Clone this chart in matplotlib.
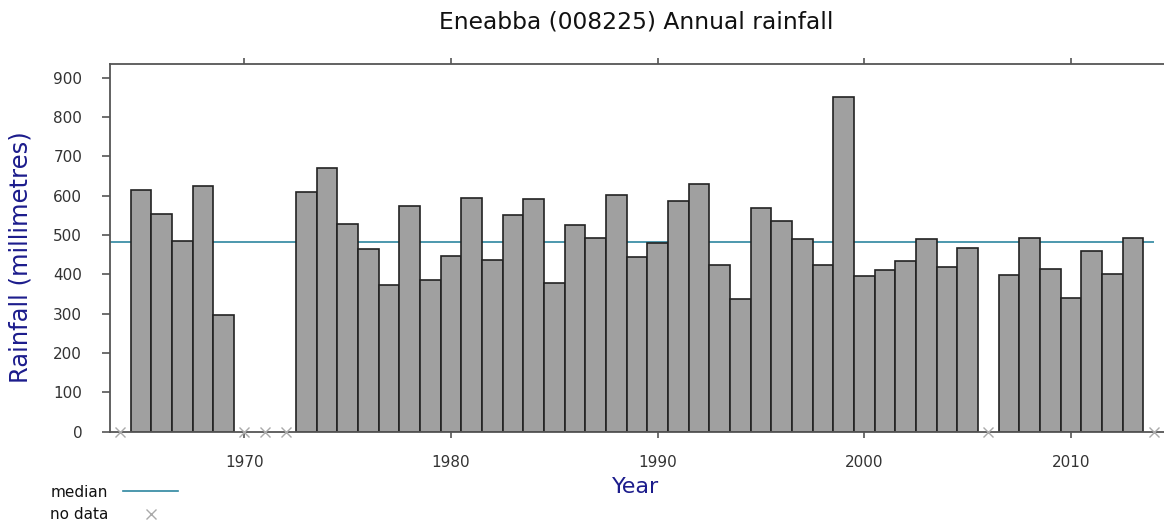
import numpy as np
import matplotlib
matplotlib.use('Agg')
import matplotlib.pyplot as plt
from matplotlib.lines import Line2D

# annual rainfall (mm)
years = [1965, 1966, 1967, 1968, 1969,
         1973, 1974, 1975, 1976, 1977, 1978, 1979, 1980, 1981, 1982,
         1983, 1984, 1985, 1986, 1987, 1988, 1989, 1990, 1991, 1992,
         1993, 1994, 1995, 1996, 1997, 1998, 1999, 2000, 2001, 2002,
         2003, 2004, 2005, 2007, 2008, 2009, 2010, 2011, 2012, 2013]
rainfall = [615, 554, 485, 625, 297,
            609, 671, 529, 465, 373, 574, 386, 447, 594, 437,
            551, 591, 379, 525, 492, 602, 443, 479, 586, 629,
            424, 337, 570, 537, 489, 425, 851, 395, 412, 435,
            489, 418, 466, 398, 492, 414, 341, 460, 402, 492]
no_data_years = [1964, 1970, 1971, 1972, 2006, 2014]
median_value = 483

title_text = 'Eneabba (008225) Annual rainfall'
label_color = '#1c1c8c'
text_color = '#333333'

fig = plt.figure(figsize=(11.64, 5.23), dpi=100)
ax = fig.add_axes([110/1164, 1 - 431.7/523, 1 - 110/1164, (431.7 - 64)/523])

ax.bar(years, rainfall, width=1.0, color='#a0a0a0', edgecolor='#222222',
       linewidth=1.2, zorder=2)
ax.hlines(median_value, 1963.5, no_data_years[-1], color='#2e86a0',
          linewidth=1.2, zorder=1)
ax.plot(no_data_years, [0] * len(no_data_years), linestyle='none', marker='x',
        color='#aaaaaa', markersize=7, markeredgewidth=1, clip_on=False, zorder=3)

ax.set_xlim(1963.5, 2014.5)
ax.set_ylim(0, 935)
ax.set_yticks(np.arange(0, 901, 100))
ax.set_xticks([1970, 1980, 1990, 2000, 2010])

for s in ['top', 'bottom', 'left']:
    ax.spines[s].set_color('#555555')
    ax.spines[s].set_linewidth(1.3)
ax.spines['right'].set_visible(False)

ax.tick_params(axis='y', direction='out', length=6, width=1.2, color='#555555',
               labelsize=11, labelcolor=text_color, pad=14)
ax.tick_params(axis='x', direction='out', length=4, width=1.2, color='#555555',
               labelsize=11, labelcolor=text_color, pad=13, top=True)

fig.text(636 / 1164, 1 - 22 / 523, title_text, ha='center', va='center',
         fontsize=16.8, color='#111111')
fig.text(21 / 1164, 1 - 257 / 523, 'Rainfall (millimetres)', rotation=90,
         ha='center', va='center', fontsize=17.5, color=label_color)
fig.text(636 / 1164, 1 - 487 / 523, 'Year', ha='center', va='center',
         fontsize=16, color=label_color)

handles = [Line2D([], [], color='#2e86a0', linewidth=1.2),
           Line2D([], [], linestyle='none', marker='x', color='#aaaaaa',
                  markersize=7, markeredgewidth=1)]
fig.legend(handles, ['median', 'no data'], loc='upper left',
           bbox_to_anchor=(36 / 1164, 1 - 471 / 523), frameon=False,
           markerfirst=False, fontsize=11, handlelength=3.6,
           handletextpad=1.0, labelspacing=0.5, labelcolor='#111111')

fig.savefig('out.png', dpi=100)
